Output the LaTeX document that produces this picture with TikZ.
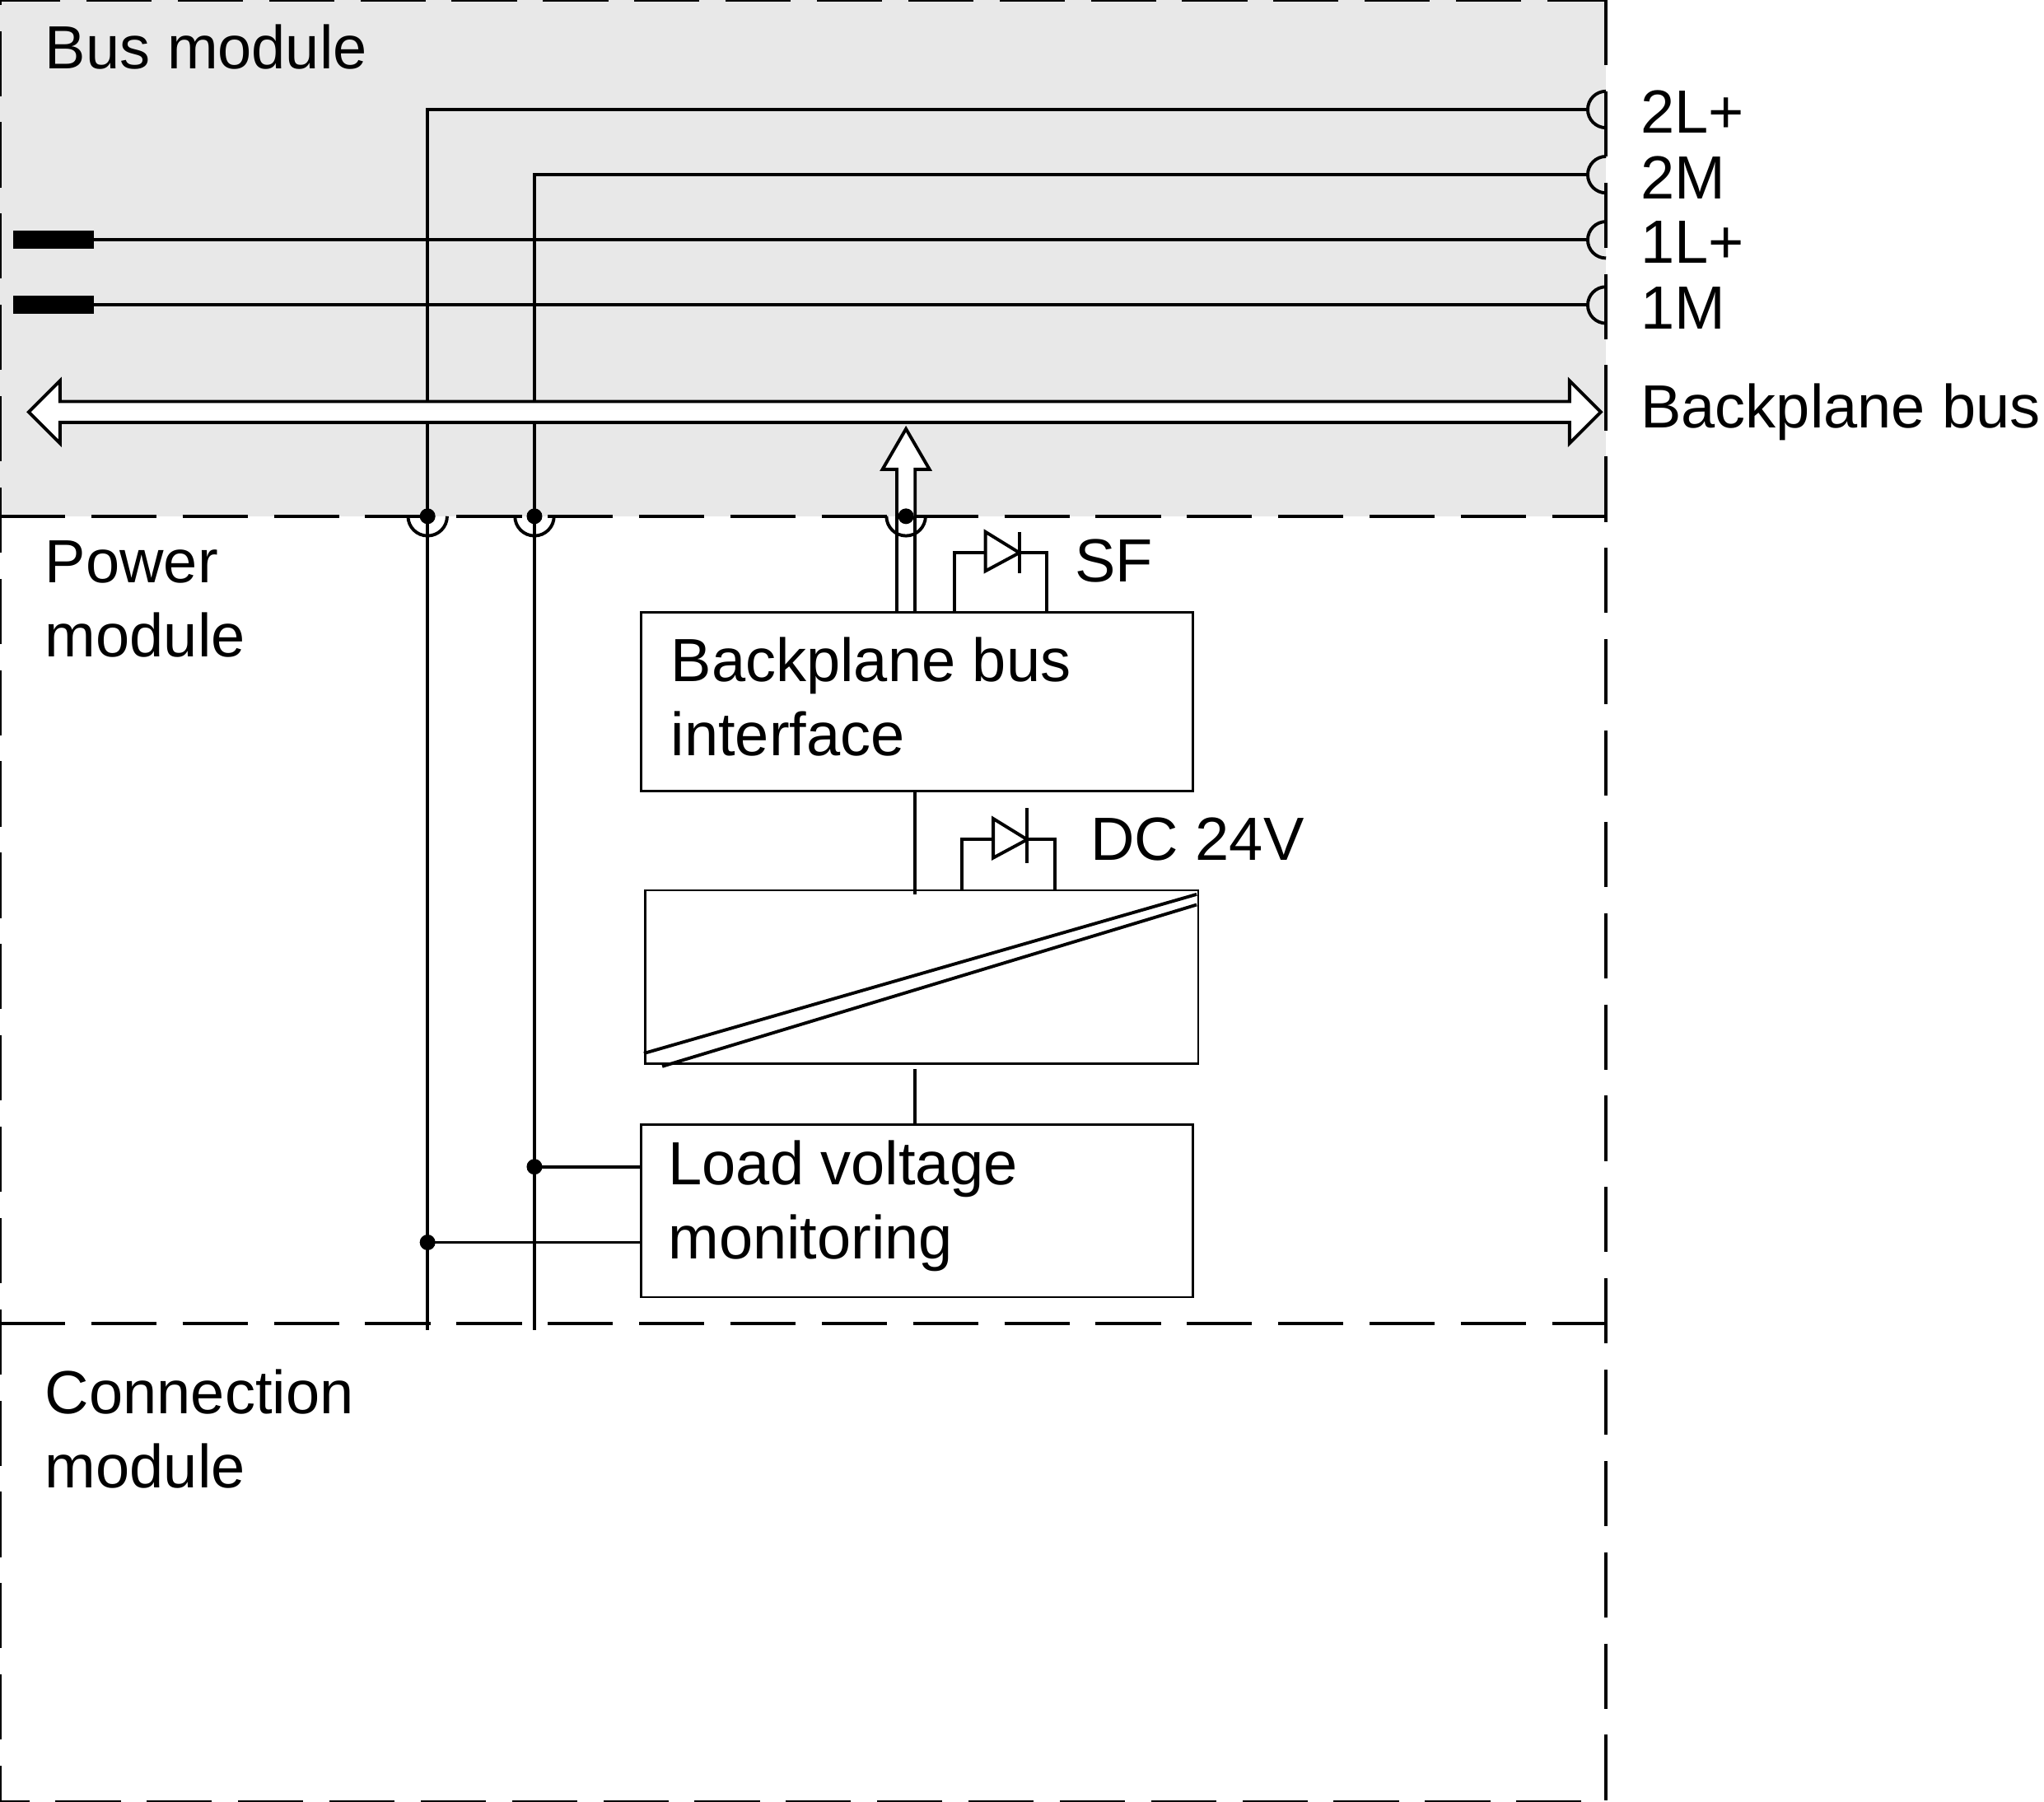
\documentclass[tikz,border=0pt]{standalone}
\usepackage{fontspec}
\setmainfont{Liberation Sans}
\usetikzlibrary{arrows.meta}
\begin{document}
\begin{tikzpicture}[x=0.01cm,y=-0.01cm,
  lbl/.style={font=\fontsize{13.3}{16.2}\selectfont,inner sep=0,anchor=north west,align=left},
  ln/.style={line width=0.7pt},
  dot/.style={circle,fill,inner sep=0,minimum size=0.12cm},
  box/.style={draw,line width=0.5pt}]
\useasboundingbox (0,0) rectangle (1568,1382);
\fill[black!9] (0,0) rectangle (1232,396);
\draw[dash pattern=on 0.5cm off 0.2cm,line width=0.7pt] (1232,0) -- (1232,1382) -- (0,1382) -- (0,0) -- (1232,0);
\draw[dash pattern=on 0.5cm off 0.2cm,line width=0.7pt] (0,396) -- (1232,396);
\draw[dash pattern=on 0.5cm off 0.2cm,line width=0.7pt] (0,1015) -- (1232,1015);
\node[lbl] (t1) at (34,18) {Bus module};
\node[lbl] (t2) at (34,414) {Power\\module};
\node[lbl] (t3) at (34,1050) {Connection\\module};
% terminals
\foreach \y/\t/\n in {84/2L+/a,134/2M/b,184/1L+/c,234/1M/d}{
  \draw[ln] (1232,\y-14) arc[start angle=90,end angle=270,radius=0.14cm];
  \node[lbl,anchor=west] (term\n) at (1258,\y+2) {\t};
}
\draw[ln] (328,1020) -- (328,84) -- (1218,84);
\draw[ln] (410,1020) -- (410,134) -- (1218,134);
\draw[ln] (10,184) -- (1218,184);
\draw[ln] (10,234) -- (1218,234);
\fill (10,177) rectangle (72,191);
\fill (10,227) rectangle (72,241);
% backplane bus arrow
\draw[line width=0.7pt,fill=white] (22,316) -- (46,292) -- (46,308) -- (1204,308) -- (1204,292) -- (1228,316) -- (1204,340) -- (1204,324) -- (46,324) -- (46,340) -- cycle;
\node[lbl,anchor=west] (bb) at (1258,316) {Backplane bus};
\draw[line width=0.7pt,fill=white] (688,396) -- (688,360) -- (677,360) -- (695,329) -- (713,360) -- (702,360) -- (702,396);
% sockets
\foreach \x in {328,410,695}{
  \draw[ln] (\x-15,396) arc[start angle=180,end angle=360,radius=0.15cm];
  \node[dot] at (\x,396) {};
}
\draw[ln] (688,396) -- (688,469);
\draw[ln] (702,396) -- (702,469);
% SF diode
\draw[ln] (732,469) -- (732,424) -- (756,424);
\draw[ln] (782,424) -- (803,424) -- (803,469);
\draw[ln] (756,408) -- (782,424) -- (756,438) -- cycle;
\draw[ln] (782,408) -- (782,440);
\node[lbl,anchor=west] (sf) at (824,430) {SF};
\node[box,minimum width=4.23cm,minimum height=1.37cm,anchor=north west] (bi) at (491,469) {};
\node[lbl] (bit) at (514,488) {Backplane bus\\interface};
% DC diode
\draw[ln] (702,606) -- (702,686);
\draw[ln] (738,682) -- (738,644) -- (762,644);
\draw[ln] (788,644) -- (809,644) -- (809,682);
\draw[ln] (762,628) -- (788,644) -- (762,658) -- cycle;
\draw[ln] (788,620) -- (788,662);
\node[lbl,anchor=west] (dc) at (836,644) {DC 24V};
\node[box,minimum width=4.24cm,minimum height=1.33cm,anchor=north west] (cv) at (494,682) {};
\draw[ln] (494,808) -- (918,686);
\draw[ln] (508,818) -- (918,694);
\draw[ln] (702,820) -- (702,862);
\node[box,minimum width=4.23cm,minimum height=1.32cm,anchor=north west] (lv) at (491,862) {};
\node[lbl] (lvt) at (512,874) {Load voltage\\monitoring};
\draw[ln] (410,895) -- (491,895);
\draw[ln] (328,953) -- (491,953);
\node[dot] at (410,895) {};
\node[dot] at (328,953) {};
\end{tikzpicture}
\end{document}
